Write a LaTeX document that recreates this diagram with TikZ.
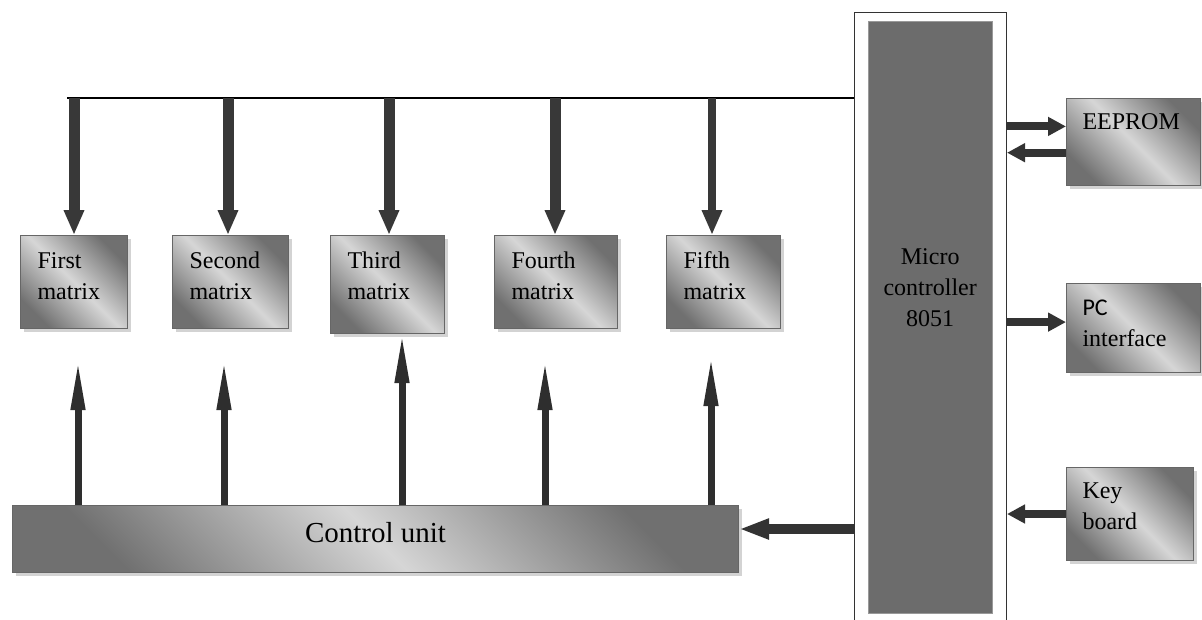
\documentclass[tikz,border=0pt]{standalone}
\usepackage{fontspec}
\setmainfont{Liberation Serif}
\newfontfamily\pcfont{Carlito}
\usetikzlibrary{arrows.meta,shadows}

\definecolor{boxdark}{RGB}{112,112,112}
\definecolor{boxlight}{RGB}{214,214,214}
\definecolor{mcugray}{RGB}{108,108,108}

\tikzset{
  box/.style={draw=gray!80!black, line width=1pt, anchor=north west,
    left color=boxdark, right color=boxdark, middle color=boxlight,
    shading angle=-45,
    drop shadow={shadow xshift=3pt, shadow yshift=-3pt, opacity=0.35},
    font=\fontsize{24}{31}\selectfont, align=left, inner xsep=17pt},
  matbox/.style={box, text width=#1, minimum height=93pt, text depth=43pt},
  sidebox/.style={box, text width=#1, inner xsep=16pt},
  busarr/.style={line width=11pt, draw=black!78, -{Triangle[width=19pt,length=25pt]}},
  uparr/.style={line width=7pt, draw=black!82, -{Triangle[width=13pt,length=52pt]}},
  fatarr/.style={line width=8pt, draw=black!80, -{Triangle[width=18pt,length=18pt]}},
  ctlarr/.style={line width=10pt, draw=black!80, -{Triangle[width=19pt,length=30pt]}}
}

\begin{document}
\begin{tikzpicture}[x=1pt, y=-1pt]
  \clip (0,0) rectangle (1202,619);

  % Microcontroller
  \node[draw=black!80, line width=1pt, anchor=north west, inner sep=0pt,
        minimum width=152pt, minimum height=700pt] (mcu) at (854,12) {};
  \node[fill=mcugray, draw=gray!80, anchor=north west, inner sep=0pt,
        minimum width=124pt, minimum height=592pt,
        label={[font=\fontsize{24}{31}\selectfont, align=center, yshift=30pt]center:Micro\\controller\\8051}]
        (core) at (868,21) {};

  % Matrices
  \node[matbox=73pt] (m1) at (20,235) {First\\matrix};
  \node[matbox=82pt] (m2) at (172,235) {Second\\matrix};
  \node[matbox=80pt, minimum height=98pt, text depth=49pt] (m3) at (330,235) {Third\\matrix};
  \node[matbox=89pt] (m4) at (494,235) {Fourth\\matrix};
  \node[matbox=80pt] (m5) at (666,235) {Fifth\\matrix};

  % Control unit
  \node[box, align=center, inner xsep=0pt, minimum width=726pt, minimum height=67pt,
        text depth=14pt, font=\fontsize{29}{35}\selectfont] (cu) at (12,505) {Control unit};

  % Peripherals
  \node[sidebox=102pt, minimum height=87pt, text depth=40pt] (eeprom) at (1066,98) {EEPROM};
  \node[sidebox=102pt, minimum height=89pt, text depth=41pt] (pc) at (1066,283) {{\pcfont PC}\\interface};
  \node[sidebox=95pt, minimum height=93pt, text depth=47pt] (kb) at (1066,467) {Key\\board};

  % Bus
  \coordinate (bus) at (67,98);
  \draw[line width=1.5pt] (bus) -- (bus -| mcu.west);
  \foreach \m/\x in {m1/74, m2/228, m3/389, m4/555}
    \draw[busarr] (bus -| \x,0) -- (\m.north -| \x,0);
  \draw[busarr, line width=8pt] (bus -| 712,0) -- (m5.north -| 712,0);

  % Control lines
  \foreach \m/\x/\g in {m1/78/29pt, m2/224/29pt, m3/402/-3pt, m4/545/29pt, m5/711/25pt}
    \draw[uparr, shorten >=\g] (cu.north -| \x,0) -- (\m.south -| \x,0);

  % Edges
  \draw[fatarr] (eeprom.167 -| mcu.east) -- (eeprom.167);
  \draw[fatarr] (eeprom.189) -- (eeprom.189 -| mcu.east);
  \draw[fatarr] (pc.175 -| mcu.east) -- (pc.175);
  \draw[fatarr] (kb.west) -- (kb.west -| mcu.east);
  \draw[ctlarr] ([yshift=10pt]cu.east -| mcu.west) -- ([yshift=10pt]cu.east);
\end{tikzpicture}
\end{document}
